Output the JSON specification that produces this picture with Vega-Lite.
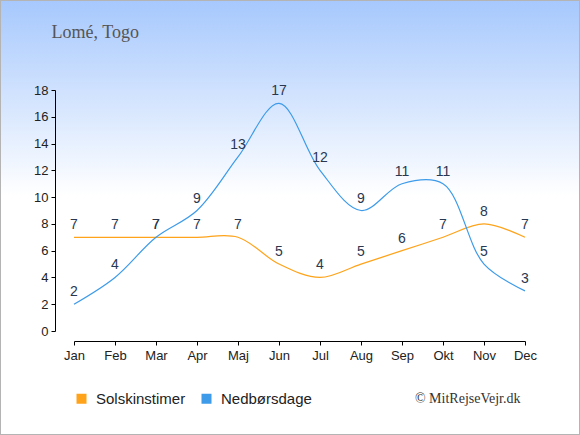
{
  "$schema": "https://vega.github.io/schema/vega-lite/v6.json",
  "width": 580,
  "height": 435,
  "padding": 0,
  "autosize": {"type": "none"},
  "config": {
    "view": {
      "fill": {
        "gradient": "linear",
        "x1": 0, "y1": 0, "x2": 0, "y2": 1,
        "stops": [
          {"offset": 0, "color": "#a6c8fd"},
          {"offset": 0.45, "color": "#ffffff"},
          {"offset": 1, "color": "#ffffff"}
        ]
      },
      "stroke": "#b4b4b4",
      "strokeWidth": 2
    },
    "font": "Liberation Sans",
    "axis": {
      "grid": false,
      "domainColor": "#000000",
      "tickColor": "#000000",
      "labelColor": "#222222",
      "labelFont": "Liberation Sans",
      "labelFontSize": 13,
      "tickSize": 4
    }
  },
  "data": {
    "values": [
      {"month": "Jan", "series": "Solskinstimer", "value": 7},
      {"month": "Feb", "series": "Solskinstimer", "value": 7},
      {"month": "Mar", "series": "Solskinstimer", "value": 7},
      {"month": "Apr", "series": "Solskinstimer", "value": 7},
      {"month": "Maj", "series": "Solskinstimer", "value": 7},
      {"month": "Jun", "series": "Solskinstimer", "value": 5},
      {"month": "Jul", "series": "Solskinstimer", "value": 4},
      {"month": "Aug", "series": "Solskinstimer", "value": 5},
      {"month": "Sep", "series": "Solskinstimer", "value": 6},
      {"month": "Okt", "series": "Solskinstimer", "value": 7},
      {"month": "Nov", "series": "Solskinstimer", "value": 8},
      {"month": "Dec", "series": "Solskinstimer", "value": 7},
      {"month": "Jan", "series": "Nedbørsdage", "value": 2},
      {"month": "Feb", "series": "Nedbørsdage", "value": 4},
      {"month": "Mar", "series": "Nedbørsdage", "value": 7},
      {"month": "Apr", "series": "Nedbørsdage", "value": 9},
      {"month": "Maj", "series": "Nedbørsdage", "value": 13},
      {"month": "Jun", "series": "Nedbørsdage", "value": 17},
      {"month": "Jul", "series": "Nedbørsdage", "value": 12},
      {"month": "Aug", "series": "Nedbørsdage", "value": 9},
      {"month": "Sep", "series": "Nedbørsdage", "value": 11},
      {"month": "Okt", "series": "Nedbørsdage", "value": 11},
      {"month": "Nov", "series": "Nedbørsdage", "value": 5},
      {"month": "Dec", "series": "Nedbørsdage", "value": 3}
    ]
  },
  "encoding": {
    "x": {
      "field": "month",
      "type": "ordinal",
      "sort": ["Jan", "Feb", "Mar", "Apr", "Maj", "Jun", "Jul", "Aug", "Sep", "Okt", "Nov", "Dec"],
      "scale": {"type": "point", "range": [74, 525], "padding": 0},
      "axis": {
        "orient": "bottom",
        "offset": -94,
        "labelAngle": 0,
        "labelPadding": 4,
        "title": "© MitRejseVejr.dk",
        "titleFont": "Liberation Serif",
        "titleFontSize": 14,
        "titleFontWeight": "normal",
        "titleColor": "#333333",
        "titleAlign": "right",
        "titleBaseline": "middle",
        "titleAnchor": null,
        "titleX": 520,
        "titleY": 57
      }
    },
    "y": {
      "field": "value",
      "type": "quantitative",
      "scale": {"domain": [0, 18], "range": [331, 90], "nice": false, "zero": true},
      "axis": {
        "orient": "left",
        "offset": -55,
        "values": [0, 2, 4, 6, 8, 10, 12, 14, 16, 18],
        "labelPadding": 3,
        "title": "Lomé, Togo",
        "titleFont": "Liberation Serif",
        "titleFontSize": 18,
        "titleFontWeight": "normal",
        "titleColor": "#555555",
        "titleAngle": 0,
        "titleAlign": "left",
        "titleBaseline": "middle",
        "titleAnchor": null,
        "titleX": -4,
        "titleY": 32
      }
    },
    "color": {
      "field": "series",
      "type": "nominal",
      "scale": {
        "domain": ["Solskinstimer", "Nedbørsdage"],
        "range": ["#ffa31a", "#3d9be9"]
      },
      "legend": {
        "orient": "none",
        "legendX": 74,
        "legendY": 391,
        "direction": "horizontal",
        "title": null,
        "symbolType": "square",
        "symbolSize": 100,
        "symbolStrokeWidth": 0,
        "labelFont": "Liberation Sans",
        "labelFontSize": 15,
        "labelColor": "#222222",
        "labelOffset": 7,
        "columnPadding": 13,
        "encode": {
          "symbols": {
            "update": {
              "fill": {"scale": "color", "field": "value"},
              "opacity": {"value": 1}
            }
          }
        }
      }
    }
  },
  "layer": [
    {
      "mark": {"type": "line", "interpolate": "catmull-rom", "strokeWidth": 1.2}
    },
    {
      "mark": {
        "type": "text",
        "baseline": "alphabetic",
        "dy": -8,
        "fontSize": 14,
        "font": "Liberation Sans",
        "color": "#293750"
      },
      "encoding": {
        "text": {"field": "value", "type": "quantitative"},
        "color": {"value": "#293750"}
      }
    }
  ]
}
